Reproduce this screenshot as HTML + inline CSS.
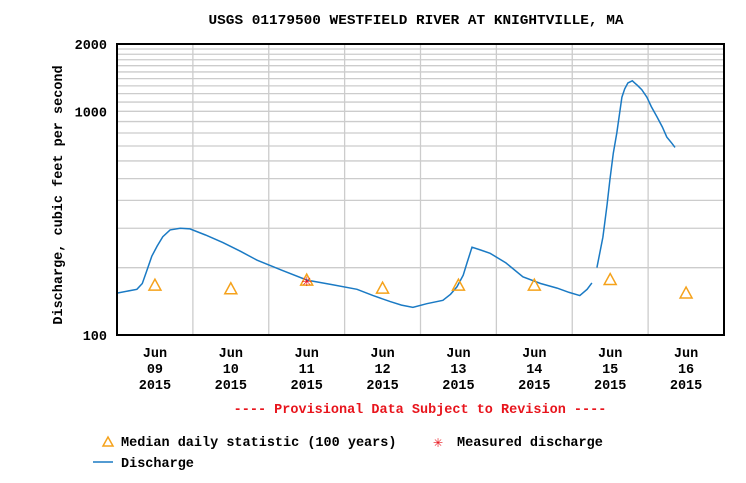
<!DOCTYPE html>
<html><head><meta charset="utf-8"><style>
html,body{margin:0;padding:0;background:#fff;}
svg{display:block;font-family:"Liberation Mono","DejaVu Sans Mono",monospace;font-weight:bold;}
</style></head><body>
<svg id="chart" width="746" height="483" viewBox="0 0 746 483">
<text x="416" y="24" text-anchor="middle" font-size="14" textLength="415" lengthAdjust="spacingAndGlyphs">USGS 01179500 WESTFIELD RIVER AT KNIGHTVILLE, MA</text>
<g id="grid"></g>
<g id="yticks"></g>
<g id="xticks"></g>
<g id="series"></g>
<rect x="117" y="44" width="607" height="291" fill="none" stroke="#000" stroke-width="2"/>
<text transform="translate(62,195) rotate(-90)" text-anchor="middle" font-size="13.5">Discharge, cubic feet per second</text>
<text x="420" y="413" text-anchor="middle" font-size="13.5" fill="#e8141c">---- Provisional Data Subject to Revision ----</text>
<g>
<g>
<path d="M103,446 L108,437 L113,446 Z" fill="none" stroke="#f5a21b" stroke-width="1.5"/>
<text x="121" y="446" font-size="13.5">Median daily statistic (100 years)</text>
</g>
<g>
<text x="438" y="447" font-size="16" fill="#e8141c" text-anchor="middle">✳</text>
<text x="457" y="446" font-size="13.5">Measured discharge</text>
</g>
<g>
<line x1="93" y1="462" x2="113" y2="462" stroke="#1a7ac4" stroke-width="1.5"/>
<text x="121" y="467" font-size="13.5">Discharge</text>
</g>
</g>
</svg>
<script>
// data (hours since Jun 09 2015 00:00, cfs)
const dischargeHours1 = [0,6.3,8,9.5,11,12.7,14.5,16.8,20,23.1,28,33.5,39,44.3,52,60.1,68,75.9,81,86.4,90,93.6,98,103.1,105.5,107.5,109.5,110.7,112.3,115,118,123,128.4,134,139.2,143,146.4,148.7,150.2];
const dischargeValues1 = [154,160,170,195,225,250,275,295,300,298,280,259,237,216,195,176,168,160,150,141,136,133,138,143,152,164,185,210,247,240,232,210,182,170,162,155,150,160,171];
const dischargeHours2 = [151.8,153.7,155,155.9,157,158.1,159.7,160.6,161.6,163,164.5,166,167.6,169,170.8,172.5,173.9,175.5,176.5];
const dischargeValues2 = [200,274,380,494,650,800,1157,1260,1340,1370,1310,1250,1157,1050,944,850,767,720,690];
const medianHours = [12,36,60,84,108,132,156,180];
const medianValues = [167,161,176,162,167,167,177,154];
const measuredHours = [60];
const measuredValues = [176];
const dayLabels = ["09","10","11","12","13","14","15","16"];
const yTickLabels = [100,1000,2000];
const gridValues = [200,300,400,500,600,700,800,900,1000,1100,1200,1300,1400,1500,1600,1700,1800,1900];

const X0=117,X1=724,Y0=335,Y1=44,TMAX=192,VMIN=100,VMAX=2000;
const xs=h=>X0+(X1-X0)*h/TMAX;
const ys=v=>Y0-(Y0-Y1)*Math.log10(v/VMIN)/Math.log10(VMAX/VMIN);
const NS="http://www.w3.org/2000/svg";
function mk(tag,attrs,parent){const e=document.createElementNS(NS,tag);for(const k in attrs)e.setAttribute(k,attrs[k]);parent.appendChild(e);return e;}
const grid=document.getElementById('grid'),yt=document.getElementById('yticks'),xt=document.getElementById('xticks'),ser=document.getElementById('series');
gridValues.forEach(v=>{const l=mk('line',{x1:X0,x2:X1,y1:ys(v),y2:ys(v),stroke:'#cccccc','stroke-width':1.3},grid);

});
for(let d=1;d<8;d++){const l=mk('line',{x1:xs(d*24),x2:xs(d*24),y1:Y1,y2:Y0,stroke:'#cccccc','stroke-width':1.3},grid);

}
yTickLabels.forEach(v=>{const t=mk('text',{x:107,y:ys(v)+5,'text-anchor':'end','font-size':13.5},yt);t.textContent=v;

});
dayLabels.forEach((d,i)=>{const x=xs(i*24+12);
const t=mk('text',{x:x,y:357,'text-anchor':'middle','font-size':13.5},xt);


[["Jun",0],[d,16],["2015",32]].forEach(([s,dy])=>{const ts=mk('tspan',{x:x,y:357+dy},t);ts.textContent=s;});});
function line(hs,vs){let d='';hs.forEach((h,i)=>{d+=(i?'L':'M')+xs(h).toFixed(1)+','+ys(vs[i]).toFixed(1);});
const p=mk('path',{d:d,fill:'none',stroke:'#1a7ac4','stroke-width':1.5},ser);

}
line(dischargeHours1,dischargeValues1);line(dischargeHours2,dischargeValues2);
medianHours.forEach((h,i)=>{const x=xs(h),y=ys(medianValues[i]);
const p=mk('path',{d:`M${x-6},${y+5}L${x},${y-6}L${x+6},${y+5}Z`,fill:'none',stroke:'#f5a21b','stroke-width':1.5},ser);

});
measuredHours.forEach((h,i)=>{const x=xs(h),y=ys(measuredValues[i]);
const t=mk('text',{x:x,y:y+6,'text-anchor':'middle','font-size':17,fill:'#e8141c'},ser);t.textContent='✳';

});
</script>
</body></html>
